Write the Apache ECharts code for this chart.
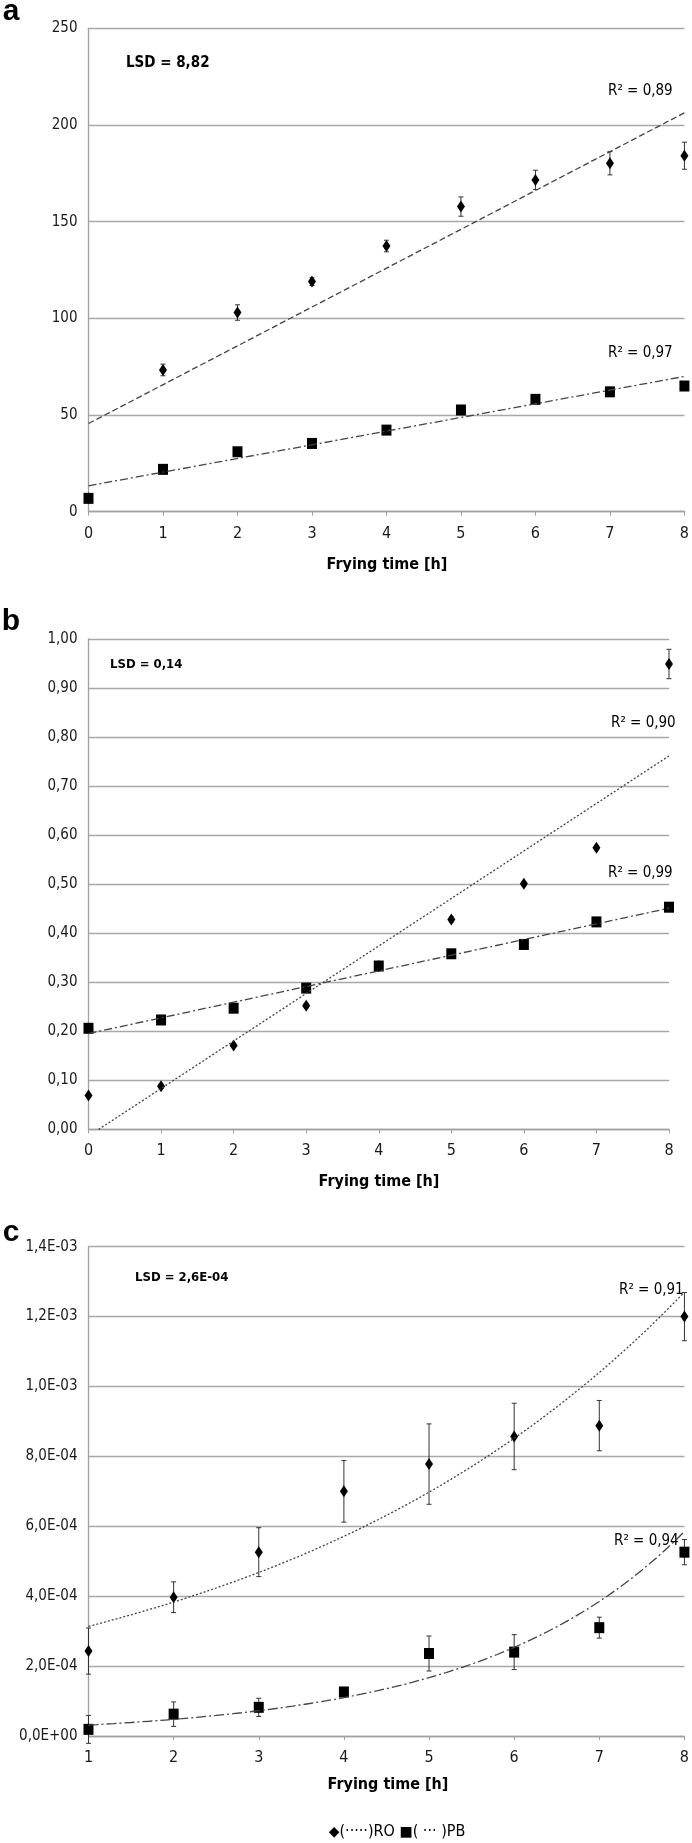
<!DOCTYPE html>
<html>
<head>
<meta charset="utf-8">
<script src="https://cdn.jsdelivr.net/npm/echarts@6/dist/echarts.min.js"></script>
<style>
html,body{margin:0;padding:0;background:#fff;}
#chart{width:692px;height:1843px;}
</style>
</head>
<body>
<div id="chart"></div>
<script>
// ---------- DATA ----------
const hoursAB = [0, 1, 2, 3, 4, 5, 6, 7, 8];
const hoursC = [1, 2, 3, 4, 5, 6, 7, 8];

// Panel a: AnV
const anvRO = [7, 73.3, 103, 119, 137.4, 157.8, 171.6, 180.2, 184.1];
const anvROErr = [1, 3, 4, 2, 3, 5, 5, 6, 7];
const anvPB = [6.9, 21.9, 31, 35.3, 42.2, 52.6, 58.1, 62, 65];
const anvPBErr = [2, 2, 2, 2, 2, 2, 2, 2, 2];

// Panel b: AV
const avRO = [0.069, 0.088, 0.171, 0.252, 0.333, 0.428, 0.501, 0.574, 0.949];
const avROErr = [0.004, 0.004, 0.004, 0.004, 0.004, 0.005, 0.004, 0.004, 0.03];
const avPB = [0.206, 0.223, 0.247, 0.288, 0.333, 0.358, 0.377, 0.423, 0.453];
const avPBErr = [0.005, 0.005, 0.005, 0.005, 0.005, 0.005, 0.005, 0.005, 0.005];

// Panel c: changes of RI
const riRO = [2.43e-4, 3.97e-4, 5.26e-4, 7.0e-4, 7.78e-4, 8.57e-4, 8.88e-4, 1.2e-3];
const riROErr = [6.6e-5, 4.4e-5, 7.0e-5, 8.8e-5, 1.15e-4, 9.5e-5, 7.2e-5, 6.9e-5];
const riPB = [1.9e-5, 6.25e-5, 8.2e-5, 1.26e-4, 2.36e-4, 2.4e-4, 3.1e-4, 5.26e-4];
const riPBErr = [4.0e-5, 3.5e-5, 2.6e-5, 1.0e-5, 5.0e-5, 5.0e-5, 3.0e-5, 3.6e-5];

// Tick labels
const xTicksAB = ['0', '1', '2', '3', '4', '5', '6', '7', '8'];
const xTicksC = ['1', '2', '3', '4', '5', '6', '7', '8'];
const yTicksA = ['0', '50', '100', '150', '200', '250'];
const yTicksB = ['0,00', '0,10', '0,20', '0,30', '0,40', '0,50', '0,60', '0,70', '0,80', '0,90', '1,00'];
const yTicksC = ['0,0E+00', '2,0E-04', '4,0E-04', '6,0E-04', '8,0E-04', '1,0E-03', '1,2E-03', '1,4E-03'];

// Annotations
const panelLetters = ['a', 'b', 'c'];
const yTitles = ['AnV', 'AV [mg KOH · g -1]', 'Changes of RI'];
const xTitle = 'Frying time [h]';
const lsdTexts = ['LSD = 8,82', 'LSD = 0,14', 'LSD = 2,6E-04'];
const r2Texts = [['R² = 0,89', 'R² = 0,97'], ['R² = 0,90', 'R² = 0,99'], ['R² = 0,91', 'R² = 0,94']];

// ---------- HELPERS ----------
function linFit(xs, ys) {
  const n = xs.length;
  const mx = xs.reduce((a, b) => a + b, 0) / n;
  const my = ys.reduce((a, b) => a + b, 0) / n;
  let sxy = 0, sxx = 0;
  for (let i = 0; i < n; i++) { sxy += (xs[i] - mx) * (ys[i] - my); sxx += (xs[i] - mx) ** 2; }
  const b = sxy / sxx;
  return { a: my - b * mx, b: b };
}
function linLine(xs, ys) {
  const f = linFit(xs, ys);
  const x0 = xs[0], x1 = xs[xs.length - 1];
  return [[x0, f.a + f.b * x0], [x1, f.a + f.b * x1]];
}
function expLine(xs, ys) {
  const f = linFit(xs, ys.map(v => Math.log(v)));
  const pts = [];
  const x0 = xs[0], x1 = xs[xs.length - 1];
  const steps = 70;
  for (let i = 0; i <= steps; i++) {
    const x = x0 + (x1 - x0) * i / steps;
    pts.push([x, Math.exp(f.a + f.b * x)]);
  }
  return pts;
}
function zip(xs, ys, es) { return xs.map((x, i) => es ? [x, ys[i], es[i]] : [x, ys[i]]); }

const NARROW = '"Liberation Sans Narrow", "Arial Narrow", "DejaVu Sans Condensed", "Liberation Sans", sans-serif';
const BOLD = '"Liberation Sans", Arial, sans-serif';
const GRIDC = '#a8a8a8';
const AXC = '#a0a0a0';
const TXT = '#1a1a1a';
const TREND = '#444';

const grids = [
  { left: 88.5, top: 28.3, width: 597.5, height: 483.4 },
  { left: 88.5, top: 639, width: 580.5, height: 490.3 },
  { left: 88.5, top: 1246.7, width: 599, height: 489.3 }
];

function xAxisCfg(idx, min, max, labels) {
  return {
    type: 'value', gridIndex: idx, min: min, max: max, interval: 1,
    axisLine: { show: true, lineStyle: { color: AXC, width: 1.3 } },
    axisTick: { show: true, length: 4, lineStyle: { color: AXC } },
    splitLine: { show: false },
    axisLabel: {
      margin: 14, fontFamily: NARROW, fontSize: 16, color: TXT,
      formatter: v => labels[Math.round(v - min)]
    }
  };
}
function yAxisCfg(idx, min, max, interval, labels) {
  return {
    type: 'value', gridIndex: idx, min: min, max: max, interval: interval,
    axisLine: { show: true, lineStyle: { color: AXC, width: 1.3 } },
    axisTick: { show: false },
    splitLine: { show: true, lineStyle: { color: GRIDC, width: 1.3 } },
    axisLabel: {
      margin: 11, fontFamily: NARROW, fontSize: 15, color: TXT,
      formatter: v => labels[Math.round((v - min) / interval)]
    }
  };
}

function errSeries(idx, data) {
  return {
    type: 'custom', xAxisIndex: idx, yAxisIndex: idx, z: 3, silent: true,
    data: data,
    renderItem: function (params, api) {
      const x = api.value(0), y = api.value(1), e = api.value(2);
      const t = api.coord([x, y + e]);
      const b = api.coord([x, y - e]);
      const st = { stroke: '#333', lineWidth: 1 };
      const w = 2.5;
      return {
        type: 'group', children: [
          { type: 'line', shape: { x1: t[0], y1: t[1], x2: b[0], y2: b[1] }, style: st },
          { type: 'line', shape: { x1: t[0] - w, y1: t[1], x2: t[0] + w, y2: t[1] }, style: st },
          { type: 'line', shape: { x1: b[0] - w, y1: b[1], x2: b[0] + w, y2: b[1] }, style: st }
        ]
      };
    }
  };
}
function markSeries(idx, data, kind) {
  return {
    type: 'scatter', xAxisIndex: idx, yAxisIndex: idx, z: kind === 'd' ? 4 : 5, silent: true,
    symbol: kind === 'd' ? 'diamond' : 'rect',
    symbolSize: kind === 'd' ? [8, 12] : [10, 11],
    itemStyle: { color: '#000', opacity: 1 },
    data: data
  };
}
function trendSeries(idx, data, dash) {
  return {
    type: 'line', xAxisIndex: idx, yAxisIndex: idx, z: 6, silent: true,
    showSymbol: false, symbol: 'none', smooth: false,
    lineStyle: { color: TREND, width: 1.3, type: dash },
    data: data
  };
}

const DASH = [6, 3];
const DASHDOT = [8, 3, 2, 3];
const DOT = [2, 2];
const LONGDASHDOT = [10, 3, 2, 3];

const series = [
  // panel a
  trendSeries(0, linLine(hoursAB, anvRO), DASH),
  trendSeries(0, linLine(hoursAB, anvPB), DASHDOT),
  errSeries(0, zip(hoursAB, anvRO, anvROErr)),
  errSeries(0, zip(hoursAB, anvPB, anvPBErr)),
  markSeries(0, zip(hoursAB, anvRO), 'd'),
  markSeries(0, zip(hoursAB, anvPB), 's'),
  // panel b
  trendSeries(1, linLine(hoursAB, avRO), DOT),
  trendSeries(1, linLine(hoursAB, avPB), DASHDOT),
  errSeries(1, zip(hoursAB, avRO, avROErr)),
  errSeries(1, zip(hoursAB, avPB, avPBErr)),
  markSeries(1, zip(hoursAB, avRO), 'd'),
  markSeries(1, zip(hoursAB, avPB), 's'),
  // panel c
  trendSeries(2, expLine(hoursC, riRO), DOT),
  trendSeries(2, expLine(hoursC, riPB), LONGDASHDOT),
  errSeries(2, zip(hoursC, riRO, riROErr)),
  errSeries(2, zip(hoursC, riPB, riPBErr)),
  markSeries(2, zip(hoursC, riRO), 'd'),
  markSeries(2, zip(hoursC, riPB), 's')
];

function txt(x, y, text, font, size, weight, align, extra) {
  return Object.assign({
    type: 'text', x: x, y: y, silent: true,
    style: { text: text, fontFamily: font, fontSize: size, fontWeight: weight, fill: '#000', align: align || 'left', verticalAlign: 'middle' }
  }, extra || {});
}

const graphic = [
  // panel letters
  txt(11, 12, panelLetters[0], BOLD, 30, 'bold', 'center'),
  txt(11, 622, panelLetters[1], BOLD, 30, 'bold', 'center'),
  txt(11, 1233, panelLetters[2], BOLD, 30, 'bold', 'center'),
  // y titles
  txt(10, 267, yTitles[0], BOLD, 14, 'bold', 'center', { rotation: Math.PI / 2, originX: 10, originY: 267 }),
  txt(10, 860, yTitles[1], BOLD, 14, 'bold', 'center', { rotation: Math.PI / 2, originX: 10, originY: 860 }),
  txt(10, 1490, yTitles[2], BOLD, 14, 'bold', 'center', { rotation: Math.PI / 2, originX: 10, originY: 1490 }),
  // x titles
  txt(387, 565, xTitle, NARROW, 16, 'bold', 'center'),
  txt(379, 1182, xTitle, NARROW, 16, 'bold', 'center'),
  txt(388, 1785, xTitle, NARROW, 16, 'bold', 'center'),
  // LSD
  txt(126, 63, lsdTexts[0], NARROW, 15, 'bold', 'left'),
  txt(110, 665, lsdTexts[1], NARROW, 13, 'bold', 'left'),
  txt(135, 1278, lsdTexts[2], NARROW, 13, 'bold', 'left'),
  // R2
  txt(608, 91, r2Texts[0][0], NARROW, 15, 'normal', 'left'),
  txt(608, 353, r2Texts[0][1], NARROW, 15, 'normal', 'left'),
  txt(611, 723, r2Texts[1][0], NARROW, 15, 'normal', 'left'),
  txt(608, 873, r2Texts[1][1], NARROW, 15, 'normal', 'left'),
  txt(619, 1290, r2Texts[2][0], NARROW, 15, 'normal', 'left'),
  txt(614, 1541, r2Texts[2][1], NARROW, 15, 'normal', 'left'),
  // legend
  {
    type: 'text', x: 397, y: 1832, silent: true,
    style: {
      text: '{m|◆}{t|(·····)RO }{m|■}{t|( ··· )PB}',
      align: 'center', verticalAlign: 'middle',
      rich: {
        m: { fontFamily: '"DejaVu Sans", sans-serif', fontSize: 14, fill: '#000' },
        t: { fontFamily: NARROW, fontSize: 16, fill: '#000' }
      }
    }
  }
];

const option = {
  animation: false,
  backgroundColor: '#fff',
  grid: grids,
  xAxis: [
    xAxisCfg(0, 0, 8, xTicksAB),
    xAxisCfg(1, 0, 8, xTicksAB),
    xAxisCfg(2, 1, 8, xTicksC)
  ],
  yAxis: [
    yAxisCfg(0, 0, 250, 50, yTicksA),
    yAxisCfg(1, 0, 1.0, 0.1, yTicksB),
    yAxisCfg(2, 0, 1.4e-3, 2e-4, yTicksC)
  ],
  series: series,
  graphic: graphic
};

const chart = echarts.init(document.getElementById('chart'), null, { renderer: 'canvas', width: 692, height: 1843 });
chart.setOption(option);
</script>
</body>
</html>
